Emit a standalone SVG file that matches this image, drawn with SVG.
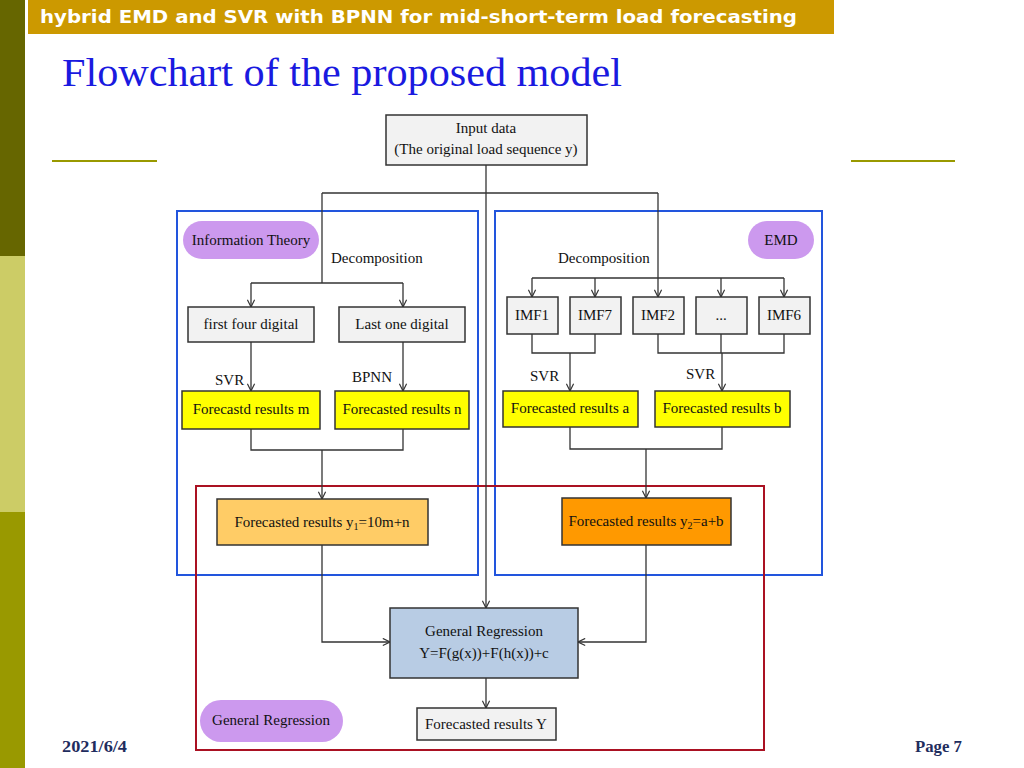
<svg xmlns="http://www.w3.org/2000/svg" width="1024" height="768" viewBox="0 0 1024 768">
<style>
.t{font-family:"Liberation Serif","Times New Roman",serif;font-size:15px;fill:#111;text-anchor:middle}
.lab{font-family:"Liberation Serif","Times New Roman",serif;font-size:15px;fill:#111}
.n{stroke:#333;stroke-width:1.5}
.g{fill:#f2f2f2}
.y{fill:#ffff00}
.pill{fill:#cc99ee;stroke:none}
.c{fill:none;stroke:#333;stroke-width:1.3}
.a{marker-end:url(#arr)}
</style>
<defs>
<marker id="arr" viewBox="0 0 10 10" refX="9" refY="5" markerWidth="9" markerHeight="9" markerUnits="userSpaceOnUse" orient="auto">
<path d="M1,1 L9,5 L1,9" fill="none" stroke="#333" stroke-width="1.3"/>
</marker>
</defs>
<rect width="1024" height="768" fill="#fff"/>
<g id="sidebar">
<rect x="0" y="0" width="25" height="256" fill="#666600"/>
<rect x="0" y="256" width="25" height="256" fill="#cccc66"/>
<rect x="0" y="512" width="25" height="256" fill="#999900"/>
</g>
<g id="header">
<rect x="28" y="0" width="806" height="34" fill="#cc9900"/>
<text x="40" y="23" font-family="DejaVu Sans,Verdana,sans-serif" font-weight="bold" font-size="18" fill="#fff" textLength="757" lengthAdjust="spacingAndGlyphs">hybrid EMD and SVR with BPNN for mid-short-term load forecasting</text>
</g>
<text id="title" x="62" y="86" font-family="Liberation Serif,Times New Roman,serif" font-size="40" fill="#1a1ae0" textLength="560" lengthAdjust="spacingAndGlyphs">Flowchart of  the proposed model</text>
<g id="rules" stroke="#999900" stroke-width="2">
<line x1="52" y1="161" x2="157" y2="161"/>
<line x1="851" y1="161" x2="955" y2="161"/>
</g>
<g id="frames" fill="none">
<rect x="177" y="211" width="301" height="364" stroke="#2255dd" stroke-width="2"/>
<rect x="495" y="211" width="327" height="364" stroke="#2255dd" stroke-width="2"/>
<rect x="196" y="486" width="568" height="264" stroke="#aa1122" stroke-width="2"/>
</g>
<g id="connectors">
<path class="c a" d="M486,165 V608"/>
<path class="c" d="M322,193 H658"/>
<path class="c" d="M322,193 V283"/>
<path class="c a" d="M658,193 V297"/>
<path class="c" d="M251,283 H403"/>
<path class="c a" d="M251,283 V307"/>
<path class="c a" d="M403,283 V307"/>
<path class="c a" d="M251,342 V391"/>
<path class="c a" d="M403,342 V391"/>
<path class="c" d="M251,429 V450 H403 V429"/>
<path class="c a" d="M322,450 V499"/>
<path class="c" d="M532,278 H784"/>
<path class="c a" d="M532,278 V297"/>
<path class="c a" d="M595,278 V297"/>
<path class="c a" d="M721,278 V297"/>
<path class="c a" d="M784,278 V297"/>
<path class="c" d="M532,334 V353 H595 V334"/>
<path class="c a" d="M570,353 V391"/>
<path class="c" d="M658,334 V353 H784 V334"/>
<path class="c a" d="M721,334 V353 M722,353 V391"/>
<path class="c" d="M570,427 V449 H722 V427"/>
<path class="c a" d="M646,449 V498"/>
<path class="c a" d="M322,545 V642 H390"/>
<path class="c a" d="M646,545 V642 H578"/>
<path class="c a" d="M486,678 V708"/>
</g>
<g id="input"><rect class="n g" x="386" y="115" width="201" height="50"/><text class="t" x="486" y="133">Input data</text><text class="t" x="486" y="154">(The original load sequence y)</text></g>
<g id="pill-info"><rect class="pill" x="183" y="221" width="136" height="38" rx="19"/><text class="t" x="251" y="245">Information Theory</text></g>
<g id="pill-emd"><rect class="pill" x="748" y="221" width="66" height="38" rx="19"/><text class="t" x="781" y="245">EMD</text></g>
<g id="pill-gr"><rect class="pill" x="200" y="700" width="143" height="42" rx="21"/><text class="t" x="271" y="725">General Regression</text></g>
<g id="labels">
<text class="lab" x="331" y="263">Decomposition</text>
<text class="lab" x="558" y="263">Decomposition</text>
<text class="lab" x="215" y="385">SVR</text>
<text class="lab" x="352" y="382">BPNN</text>
<text class="lab" x="530" y="381">SVR</text>
<text class="lab" x="686" y="379">SVR</text>
</g>
<g id="first-four"><rect class="n g" x="188" y="307" width="126" height="35"/><text class="t" x="251" y="329">first four digital</text></g>
<g id="last-one"><rect class="n g" x="339" y="307" width="126" height="35"/><text class="t" x="402" y="329">Last one digital</text></g>
<g id="res-m"><rect class="n y" x="182" y="391" width="138" height="38"/><text class="t" x="251" y="414">Forecastd results m</text></g>
<g id="res-n"><rect class="n y" x="335" y="391" width="134" height="38"/><text class="t" x="402" y="414">Forecasted results n</text></g>
<g id="imf1"><rect class="n g" x="507" y="297" width="51" height="37"/><text class="t" x="532" y="320">IMF1</text></g>
<g id="imf7"><rect class="n g" x="570" y="297" width="51" height="37"/><text class="t" x="595" y="320">IMF7</text></g>
<g id="imf2"><rect class="n g" x="633" y="297" width="51" height="37"/><text class="t" x="658" y="320">IMF2</text></g>
<g id="imfdots"><rect class="n g" x="696" y="297" width="51" height="37"/><text class="t" x="721" y="320">...</text></g>
<g id="imf6"><rect class="n g" x="759" y="297" width="51" height="37"/><text class="t" x="784" y="320">IMF6</text></g>
<g id="res-a"><rect class="n y" x="503" y="391" width="135" height="36"/><text class="t" x="570" y="413">Forecasted results a</text></g>
<g id="res-b"><rect class="n y" x="655" y="391" width="135" height="36"/><text class="t" x="722" y="413">Forecasted results b</text></g>
<g id="res-y1"><rect class="n" fill="#ffcc66" x="217" y="499" width="211" height="46"/><text class="t" x="322" y="527">Forecasted results y<tspan font-size="10" dy="3">1</tspan><tspan dy="-3">=10m+n</tspan></text></g>
<g id="res-y2"><rect class="n" fill="#ff9900" x="562" y="498" width="169" height="47"/><text class="t" x="646" y="526">Forecasted results y<tspan font-size="10" dy="3">2</tspan><tspan dy="-3">=a+b</tspan></text></g>
<g id="general-regression"><rect class="n" fill="#b8cce4" x="390" y="608" width="188" height="70"/><text class="t" x="484" y="636">General Regression</text><text class="t" x="484" y="658">Y=F(g(x))+F(h(x))+c</text></g>
<g id="res-Y"><rect class="n g" x="417" y="708" width="139" height="32"/><text class="t" x="486" y="729">Forecasted results Y</text></g>
<g id="footer" font-family="Liberation Serif,Times New Roman,serif" font-weight="bold" font-size="17" fill="#1f2d5e">
<text x="62" y="752" textLength="65" lengthAdjust="spacingAndGlyphs">2021/6/4</text>
<text x="915" y="752" textLength="47" lengthAdjust="spacingAndGlyphs">Page 7</text>
</g>
</svg>
